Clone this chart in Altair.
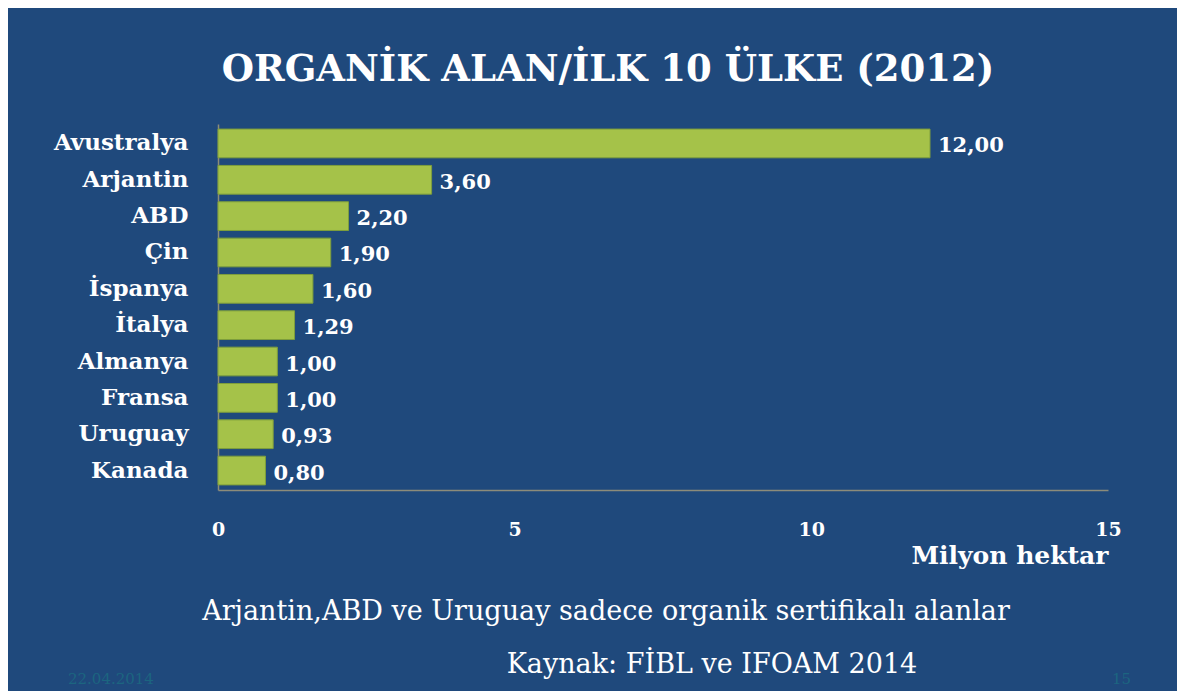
import altair as alt
import pandas as pd

countries = ["Avustralya", "Arjantin", "ABD", "Çin", "İspanya", "İtalya",
             "Almanya", "Fransa", "Uruguay", "Kanada"]
values = [12.00, 3.60, 2.20, 1.90, 1.60, 1.29, 1.00, 1.00, 0.93, 0.80]
x_ticks = [0, 5, 10, 15]

title_text = "ORGANİK ALAN/İLK 10 ÜLKE (2012)"
x_title = "Milyon hektar"
note_text = ["Arjantin,ABD ve Uruguay sadece  organik sertifikalı alanlar"]
source_text = ["Kaynak: FİBL ve IFOAM  2014"]
date_text = ["22.04.2014"]
page_text = ["15"]

BG = "#1F497C"
BAR = "#A5C249"
SERIF = "DejaVu Serif"

df = pd.DataFrame({"country": countries, "value": values})

base = alt.Chart(df)

bars = base.mark_bar(color=BAR, stroke="#7E9E3C", strokeWidth=1).encode(
    x=alt.X("value:Q",
            scale=alt.Scale(domain=[0, 15], nice=False, zero=True),
            axis=alt.Axis(values=x_ticks, format="d", grid=False, ticks=False,
                          labelFlush=False, labelPadding=30,
                          labelFont=SERIF, labelFontWeight="bold",
                          labelFontSize=19, labelColor="white",
                          domainColor="#8C8C7A", domainWidth=1.5,
                          title=x_title, titleFont=SERIF, titleFontWeight="bold",
                          titleFontSize=25, titleColor="white",
                          titleAlign="right", titleBaseline="alphabetic",
                          titleX=890, titleY=73)),
    y=alt.Y("country:N", sort=countries,
            scale=alt.Scale(paddingInner=0.21, paddingOuter=0.14),
            axis=alt.Axis(title=None, ticks=False, grid=False,
                          labelPadding=30, labelFont=SERIF, labelFontWeight="bold",
                          labelFontSize=23, labelColor="white",
                          domainColor="#8C8C7A", domainWidth=1.5)),
)

labels = base.mark_text(align="left", baseline="middle", dx=8, dy=3,
                        font=SERIF, fontWeight="bold", fontSize=21,
                        color="white").encode(
    x="value:Q",
    y=alt.Y("country:N", sort=countries),
    text=alt.Text("value:Q", format=".2f"),
)

note = alt.Chart(pd.DataFrame({"t": note_text})).mark_text(
    align="center", baseline="alphabetic", font=SERIF, fontSize=27,
    color="white").encode(text="t:N", x=alt.value(388), y=alt.value(496))

source = alt.Chart(pd.DataFrame({"t": source_text})).mark_text(
    align="center", baseline="alphabetic", font=SERIF, fontSize=27,
    color="white").encode(text="t:N", x=alt.value(494), y=alt.value(549))

date = alt.Chart(pd.DataFrame({"t": date_text})).mark_text(
    align="left", baseline="alphabetic", font=SERIF, fontSize=15,
    color="#1C6580").encode(text="t:N", x=alt.value(-150), y=alt.value(560))

page = alt.Chart(pd.DataFrame({"t": page_text})).mark_text(
    align="left", baseline="alphabetic", font=SERIF, fontSize=15,
    color="#1C6580").encode(text="t:N", x=alt.value(894), y=alt.value(560))

chart = alt.layer(bars, labels, note, source, date, page).properties(
    width=890,
    height=366,
    autosize=alt.AutoSizeParams(type="none"),
    padding={"left": 210, "top": 116, "right": 69, "bottom": 201},
    background=BG,
    title=alt.TitleParams(title_text, anchor="middle", frame="group", dx=-55,
                          offset=6, baseline="alphabetic",
                          font=SERIF, fontWeight="bold", fontSize=37,
                          color="white"),
).configure(
    locale={"number": {"decimal": ",", "thousands": ".", "grouping": [3],
                       "currency": ["", ""]}}
).configure_view(strokeWidth=0, stroke=None)

chart.save("out.html", embed_options={"renderer": "svg", "actions": False})
